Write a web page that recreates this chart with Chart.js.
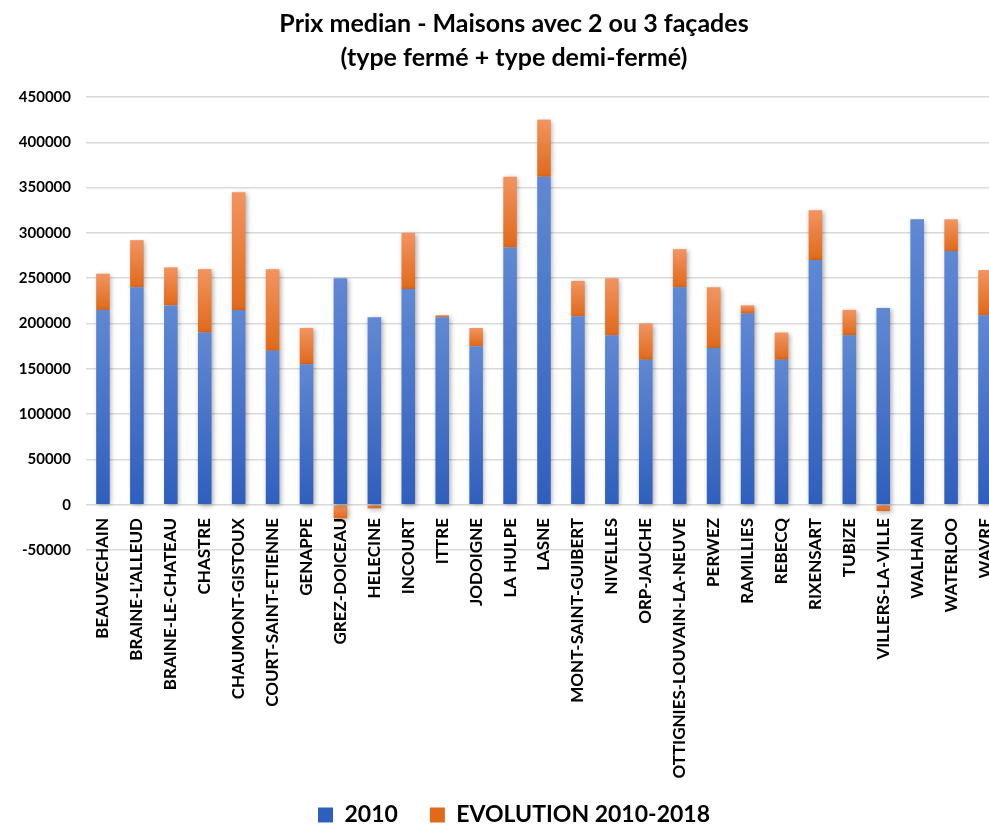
<!DOCTYPE html>
<html>
<head>
<meta charset="utf-8">
<title>Prix median - Maisons avec 2 ou 3 façades</title>
<script src="https://cdn.jsdelivr.net/npm/chart.js@4.4.1/dist/chart.umd.min.js"></script>
<style>
    html, body { margin: 0; padding: 0; background: #fff; overflow: hidden; }
    #wrap { position: relative; width: 1040px; height: 826px; }
</style>
</head>
<body>
<div id="wrap"><canvas id="prix-chart"></canvas></div>
<script>
// Communes du Brabant wallon
const communes = [
    'BEAUVECHAIN', "BRAINE-L'ALLEUD", 'BRAINE-LE-CHATEAU', 'CHASTRE', 'CHAUMONT-GISTOUX',
    'COURT-SAINT-ETIENNE', 'GENAPPE', 'GREZ-DOICEAU', 'HELECINE', 'INCOURT', 'ITTRE',
    'JODOIGNE', 'LA HULPE', 'LASNE', 'MONT-SAINT-GUIBERT', 'NIVELLES', 'ORP-JAUCHE',
    'OTTIGNIES-LOUVAIN-LA-NEUVE', 'PERWEZ', 'RAMILLIES', 'REBECQ', 'RIXENSART', 'TUBIZE',
    'VILLERS-LA-VILLE', 'WALHAIN', 'WATERLOO', 'WAVRE'
];

// Prix median 2010 (EUR)
const prix2010 = [
    215000, 240000, 220000, 190000, 215000, 170000, 155000, 250000, 207000, 238000, 207000,
    175000, 284000, 362000, 208000, 187000, 160000, 240000, 173000, 211000, 160000, 270000,
    187000, 217000, 315000, 280000, 209000
];

// Evolution 2010-2018 (EUR), empilee sur 2010
const evolution = [
    40000, 52000, 42000, 70000, 130000, 90000, 40000, -15000, -4000, 62000, 2000,
    20000, 78000, 63000, 39000, 63000, 40000, 42000, 67000, 9000, 30000, 55000,
    28000, -7000, 0, 35000, 50000
];

const seriesLabels = ['2010', 'EVOLUTION 2010-2018'];

const yTicks = { min: -50000, max: 450000, step: 50000 };

const FONT = 'Lato, "Open Sans", sans-serif';

// light (top) -> dark (bottom) per bar segment
const palette = [
    { solid: '#4472c4', light: '#6088d3', dark: '#2f5fbd' },
    { solid: '#ed7d31', light: '#f29460', dark: '#e0691a' }
];

function segmentFill(ctx) {
    const pal = palette[ctx.datasetIndex];
    const chart = ctx.chart;
    const y = chart.scales.y;
    if (ctx.dataIndex === undefined || !chart.chartArea || !y) return pal.solid;

    const i = ctx.dataIndex;
    let lo, hi;
    if (ctx.datasetIndex === 0) {
        lo = 0; hi = prix2010[i];
    } else if (evolution[i] >= 0) {
        lo = prix2010[i]; hi = prix2010[i] + evolution[i];
    } else {
        lo = evolution[i]; hi = 0;
    }
    const top = y.getPixelForValue(hi);
    const bottom = y.getPixelForValue(lo);
    if (bottom - top < 2) return pal.solid;

    const g = chart.ctx.createLinearGradient(0, top, 0, bottom);
    g.addColorStop(0, pal.light);
    g.addColorStop(1, pal.dark);
    return g;
}

// soft drop shadow under the bars
const barShadow = {
    id: 'barShadow',
    beforeDatasetsDraw(chart) {
        const c = chart.ctx;
        c.save();
        c.shadowColor = 'rgba(0, 0, 0, 0.35)';
        c.shadowBlur = 5;
        c.shadowOffsetX = 1.5;
        c.shadowOffsetY = 1.5;
    },
    afterDatasetsDraw(chart) {
        chart.ctx.restore();
    }
};

// category labels sit just under the zero line, over the lower grid band;
// widen the label clip boxes of both axes
const LABEL_LIFT = 32;
const axisLabelBoxes = {
    id: 'axisLabelBoxes',
    afterLayout(chart) {
        const x = chart.scales.x;
        x.top = chart.chartArea.bottom - LABEL_LIFT;
        x.bottom = chart.height;
        chart.scales.y.left = 0;
    }
};

const ctx = document.getElementById('prix-chart');

new Chart(ctx, {
    type: 'bar',
    data: {
        labels: communes,
        datasets: [
            {
                label: seriesLabels[0],
                data: prix2010,
                backgroundColor: segmentFill,
                borderWidth: 0
            },
            {
                label: seriesLabels[1],
                data: evolution,
                backgroundColor: segmentFill,
                borderWidth: 0
            }
        ]
    },
    options: {
        responsive: true,
        maintainAspectRatio: false,
        animation: false,
        layout: {
            padding: { left: 26, right: 38, top: 0, bottom: -10.5 }
        },
        datasets: {
            bar: {
                categoryPercentage: 1.0,
                barPercentage: 0.4
            }
        },
        plugins: {
            title: {
                display: true,
                text: ['Prix median - Maisons avec 2 ou 3 façades', '(type fermé + type demi-fermé)'],
                color: '#000',
                font: { family: FONT, size: 25, weight: 'bold', lineHeight: 1.36 },
                padding: { top: 7, bottom: 22 }
            },
            legend: {
                display: true,
                position: 'bottom',
                labels: {
                    color: '#000',
                    font: { family: FONT, size: 23, weight: 'bold' },
                    boxWidth: 15,
                    boxHeight: 15,
                    padding: 32
                }
            },
            tooltip: { enabled: false }
        },
        scales: {
            x: {
                stacked: true,
                grid: { display: false, drawTicks: false },
                border: { display: false },
                afterFit(scale) { scale.height = 221.5; },
                ticks: {
                    color: '#000',
                    font: { family: FONT, size: 17, weight: 'bold' },
                    minRotation: 90,
                    maxRotation: 90,
                    autoSkip: false,
                    padding: 0
                }
            },
            y: {
                stacked: true,
                min: yTicks.min,
                max: yTicks.max,
                grid: { color: '#d9d9d9', lineWidth: 1.5, drawTicks: false },
                border: { display: false },
                afterFit(scale) { scale.width = 60; },
                ticks: {
                    stepSize: yTicks.step,
                    color: '#000',
                    font: { family: FONT, size: 15, weight: 'bold' },
                    padding: 15,
                    callback: (v) => String(v)
                }
            }
        }
    },
    plugins: [barShadow, axisLabelBoxes]
});
</script>
</body>
</html>
